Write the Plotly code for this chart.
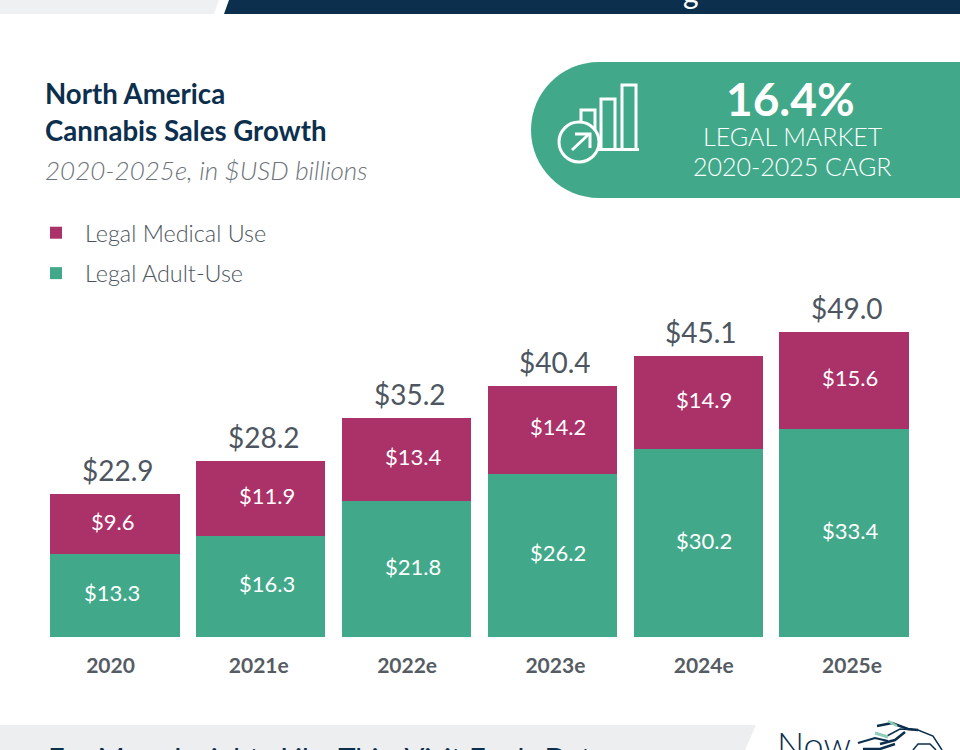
import plotly.graph_objects as go

years = ["2020", "2021e", "2022e", "2023e", "2024e", "2025e"]
adult_use = [13.3, 16.3, 21.8, 26.2, 30.2, 33.4]
medical = [9.6, 11.9, 13.4, 14.2, 14.9, 15.6]
totals = [22.9, 28.2, 35.2, 40.4, 45.1, 49.0]

GREEN = "#41a98a"
PINK = "#ab3169"
NAVY = "#0b2f4d"
GREY = "#4d5660"
FONT = "Lato"
W, H = 960, 750


def money(values):
    return [f"${v:.1f}" for v in values]


def px(x):
    return x / W


def py(y):
    return 1 - y / H


def path(*points):
    return "M" + "L".join(f"{px(x):.5f},{py(y):.5f}" for x, y in points)


fig = go.Figure()
fig.add_bar(x=years, y=adult_use, name="Legal Adult-Use", marker=dict(color=GREEN, line_width=0), legendgroup="a",
            legendrank=2, hoverinfo="name+y")
fig.add_bar(x=years, y=medical, name="Legal Medical Use", marker=dict(color=PINK, line_width=0), legendgroup="b",
            legendrank=1, hoverinfo="name+y")
# Invisible carrier for the separately spaced year labels
fig.add_scatter(x=years, y=adult_use, xaxis="x2", mode="lines", line_width=0, opacity=0,
                showlegend=False, hoverinfo="skip")

shapes = []


def poly(points, fill):
    shapes.append(dict(type="path", xref="paper", yref="paper", layer="below",
                       path=path(*points) + "Z", fillcolor=fill, line_width=0))


def stroke(points, color="white", width=3):
    shapes.append(dict(type="path", xref="paper", yref="paper", path=path(*points),
                       fillcolor="rgba(0,0,0,0)", line=dict(color=color, width=width)))


poly([(0, 0), (219, 0), (214, 14), (0, 14)], "#eef0f1")
poly([(229, 0), (960, 0), (960, 14), (224, 14)], NAVY)
poly([(0, 725), (756, 725), (745, 750), (0, 750)], "#eceeef")

# Rounded CAGR badge
R = 68
L, T, B = 531, 62, 198
k = 0.5523 * R
badge = (f"M{px(960)},{py(T)}L{px(L+R)},{py(T)}"
         f"C{px(L+R-k)},{py(T)} {px(L)},{py(T+R-k)} {px(L)},{py(T+R)}"
         f"C{px(L)},{py(T+R+k)} {px(L+R-k)},{py(B)} {px(L+R)},{py(B)}"
         f"L{px(960)},{py(B)}Z")
shapes.append(dict(type="path", xref="paper", yref="paper", layer="below", path=badge,
                   fillcolor=GREEN, line_width=0))

# Badge icon
for x0, x1, y0 in [(581, 595, 110), (601, 615, 99), (622, 636, 85)]:
    stroke([(x0, 149), (x0, y0), (x1, y0), (x1, 149)])
stroke([(578, 149.5), (639, 149.5)])
shapes.append(dict(type="circle", xref="paper", yref="paper", x0=px(559), x1=px(599), y0=py(162), y1=py(122),
                   fillcolor=GREEN, line=dict(color="white", width=3)))
stroke([(572, 150), (589, 134)])
stroke([(575, 134), (590, 134), (590, 148)])

# Footer logo, cropped by the lower edge
stroke([(885, 737), (900, 729), (918, 730), (933, 736), (942, 750)], NAVY, 1.5)
stroke([(877, 726), (892, 723), (908, 729), (918, 730)], NAVY, 2.5)
stroke([(880, 744), (895, 740), (905, 732)], NAVY, 2.5)
stroke([(858, 743), (875, 738), (888, 741)], NAVY, 2)
stroke([(863, 749), (880, 749), (895, 744)], NAVY, 2.5)
stroke([(913, 750), (918, 744), (930, 744), (936, 750)], NAVY, 1.5)
stroke([(875, 733), (888, 737)], "#8fd0b8", 3)
stroke([(888, 721), (897, 726)], "#8fd0b8", 2.5)


def note(text, x, y, size, color, anchor="left", **font):
    return dict(text=text, xref="paper", yref="paper", x=px(x), y=py(y), xanchor=anchor, yanchor="middle",
                showarrow=False, align=anchor, font=dict(family=FONT, size=size, color=color, **font))


def bar_label(text, i, y, dx):
    return dict(text=text, x=i, y=y, xref="x", yref="y", xanchor="center", yanchor="middle", xshift=dx, yshift=3,
                showarrow=False, font=dict(family=FONT, size=22, color="white"))


annotations = [
    note("<b>North America</b>", 43, 93, 27.6, NAVY),
    note("<b>Cannabis Sales Growth</b>", 43, 131, 27.6, NAVY),
    note("<i>2020-2025e, in $USD billions</i>", 43, 170, 26, "#6d747b", weight=300),
    note("<b>16.4%</b>", 790, 98, 46, "white", "center"),
    note("LEGAL MARKET", 792.5, 136, 25, "white", "center", weight=300),
    note("2020-2025 CAGR", 792, 166, 25, "white", "center", weight=300),
    note("g", 691, -8, 30, "white", "center"),
    note("For More Insights Like This, Visit Fools Data", 46, 757, 29.3, NAVY),
    note("Now", 775, 744, 36, NAVY, weight=300),
]
for i, year in enumerate(years):
    dx = -3 if i == 0 else 6
    annotations.append(bar_label(money(adult_use)[i], i, adult_use[i] / 2, dx))
    annotations.append(bar_label(money(medical)[i], i, adult_use[i] + medical[i] / 2, dx))
    annotations.append(dict(text=money(totals)[i], x=i, y=totals[i], xref="x", yref="y", xanchor="center",
                            yanchor="bottom", xshift=3, yshift=5, showarrow=False,
                            font=dict(family=FONT, size=28, color=GREY)))

fig.update_layout(
    width=W, height=H, margin=dict(l=0, r=0, t=0, b=0),
    paper_bgcolor="white", plot_bgcolor="white",
    barmode="stack", bargap=0.115,
    font=dict(family=FONT, color=GREY),
    shapes=shapes, annotations=annotations,
    legend=dict(x=px(27), y=py(211), xanchor="left", yanchor="top", traceorder="grouped",
                tracegroupgap=7, itemwidth=48, bgcolor="rgba(0,0,0,0)",
                font=dict(family=FONT, size=23.4, color="#4d5660", weight=300)),
    xaxis=dict(domain=[0, 1], type="category", range=[-115 / 145.8, (W - 115) / 145.8], showgrid=False,
               showline=False, ticks="", showticklabels=False),
    xaxis2=dict(domain=[0, 1], type="category", overlaying="x", anchor="y", side="bottom",
                range=[-110.5 / 148.3, (W - 110.5) / 148.3], showgrid=False, showline=False, ticks="",
                tickfont=dict(family=FONT, size=21, color="#555c63", weight="bold"), ticklabelstandoff=14),
    yaxis=dict(domain=[(H - 637) / H, (H - 300) / H], range=[0, 337 / 6.225], visible=False, showgrid=False),
)

fig.write_html("out.html", config={"displayModeBar": False},
               post_script="document.body.style.margin='0';document.body.style.overflow='hidden';")
